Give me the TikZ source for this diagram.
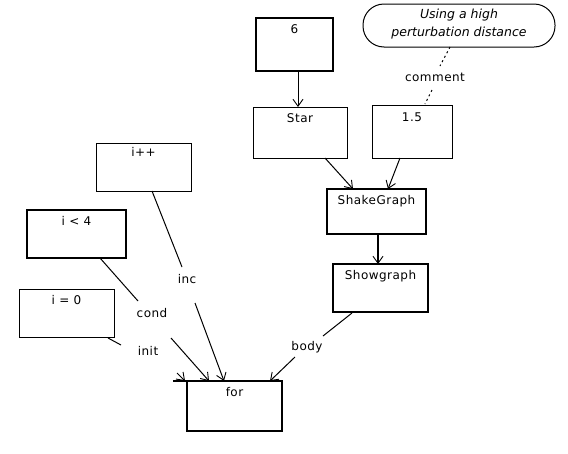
\documentclass[tikz,border=0pt]{standalone}
\usepackage{fontspec}
\setmainfont{DejaVu Sans}
\newfontfamily\pixfont[LetterSpace=4]{DejaVu Sans}
\usetikzlibrary{arrows.meta}
\begin{document}
\begin{tikzpicture}[x=1pt,y=-1pt,
  box/.style={draw, line width=1pt, anchor=north west, inner sep=0pt, outer sep=0pt},
  thickbox/.style={box, line width=2pt},
  boxtext/.style={inner sep=0pt, text height=8pt, text depth=2pt, font=\pixfont\fontsize{12}{14}\selectfont},
  lbl/.style={inner sep=0pt, font=\pixfont\fontsize{12}{14}\selectfont},
  conn/.style={line width=1pt},
  arr/.style={line width=1pt, -{Straight Barb[length=7pt,width=10pt,line width=0.9pt]}},
  dotline/.style={line width=1pt, dash pattern=on 2pt off 3pt}]
\useasboundingbox (0,0) rectangle (568,453);
% boxes
\node[box, line width=1.3pt, minimum width=77pt, minimum height=53pt] (six) at (256,18) {};
\node[box, minimum width=94pt, minimum height=51pt] (star) at (253,107) {};
\node[box, minimum width=80pt, minimum height=53pt] (onefive) at (372,105) {};
\node[thickbox, minimum width=99pt, minimum height=45pt] (shake) at (327,189) {};
\node[thickbox, minimum width=95pt, minimum height=48pt] (show) at (333,264) {};
\node[box, minimum width=95pt, minimum height=48pt] (ipp) at (96,143) {};
\node[thickbox, minimum width=99pt, minimum height=48pt] (ilt) at (27,210) {};
\node[box, minimum width=95pt, minimum height=48pt] (ieq) at (19,289) {};
\node[thickbox, minimum width=95pt, minimum height=50pt] (for) at (187,381) {};
\node[box, rounded corners=21pt, minimum width=192pt, minimum height=43pt] (cmt) at (363,4) {};
% box texts
\node[boxtext] (sixT) at ([yshift=-12.5pt]six.north) {6};
\node[boxtext] (starT) at ([yshift=-12.5pt]star.north) {Star};
\node[boxtext] (onefiveT) at ([yshift=-13.5pt]onefive.north) {1.5};
\node[boxtext] (shakeT) at ([yshift=-12.5pt]shake.north) {ShakeGraph};
\node[boxtext] (showT) at ([yshift=-12.5pt]show.north) {Showgraph};
\node[boxtext] (ippT) at ([yshift=-10pt]ipp.north) {i++};
\node[boxtext] (iltT) at ([yshift=-12.5pt]ilt.north) {i < 4};
\node[boxtext] (ieqT) at ([yshift=-12pt]ieq.north) {i = 0};
\node[boxtext] (forT) at ([yshift=-12.5pt]for.north) {for};
\node[lbl, align=center, font=\fontsize{12.5}{18}\selectfont\itshape] (cmtT) at ([yshift=1pt]cmt.center) {Using a high\\perturbation distance};
% connector labels
\node[lbl] (inc) at (187,279) {inc};
\node[lbl] (cond) at (152,313) {cond};
\node[lbl] (init) at (148,351) {init};
\node[lbl] (body) at (307,347) {body};
\node[lbl] (comment) at (435,77) {comment};
% connector points
\coordinate (a1) at (298,71);  \coordinate (a2) at (298,107);
\coordinate (b1) at (325,158); \coordinate (b2) at (353,189);
\coordinate (c1) at (400,158); \coordinate (c2) at (388,189);
\coordinate (d1) at (378,234); \coordinate (d2) at (378,264);
\coordinate (inc1) at (152,191); \coordinate (inc2) at (182,267);
\coordinate (inc3) at (195,303); \coordinate (inc4) at (224,381);
\coordinate (cond1) at (100,258); \coordinate (cond2) at (138,301);
\coordinate (cond3) at (171,338); \coordinate (cond4) at (209,381);
\coordinate (init1) at (108,338); \coordinate (init2) at (121,345);
\coordinate (init3) at (177,373); \coordinate (init4) at (185,381);
\coordinate (body1) at (352,313); \coordinate (body2) at (323,336);
\coordinate (body3) at (295,357); \coordinate (body4) at (270,381);
\coordinate (cm1) at (450,47); \coordinate (cm2) at (440,66);
\coordinate (cm3) at (432,90); \coordinate (cm4) at (425,104);
\coordinate (forL) at (173,381);
% connectors
\draw[arr] (a1) -- (a2);
\draw[arr] (b1) -- (b2);
\draw[arr] (c1) -- (c2);
\draw[arr, line width=1.6pt] (d1) -- (d2);
\draw[conn] (inc1) -- (inc2);
\draw[arr] (inc3) -- (inc4);
\draw[conn] (cond1) -- (cond2);
\draw[arr] (cond3) -- (cond4);
\draw[conn] (init1) -- (init2);
\draw[arr] (init3) -- (init4);
\draw[conn] (body1) -- (body2);
\draw[arr] (body3) -- (body4);
\draw[dotline] (cm1) -- (cm2);
\draw[dotline] (cm3) -- (cm4);
\draw[line width=2pt] (forL) -- (for.north east);
\end{tikzpicture}
\end{document}
